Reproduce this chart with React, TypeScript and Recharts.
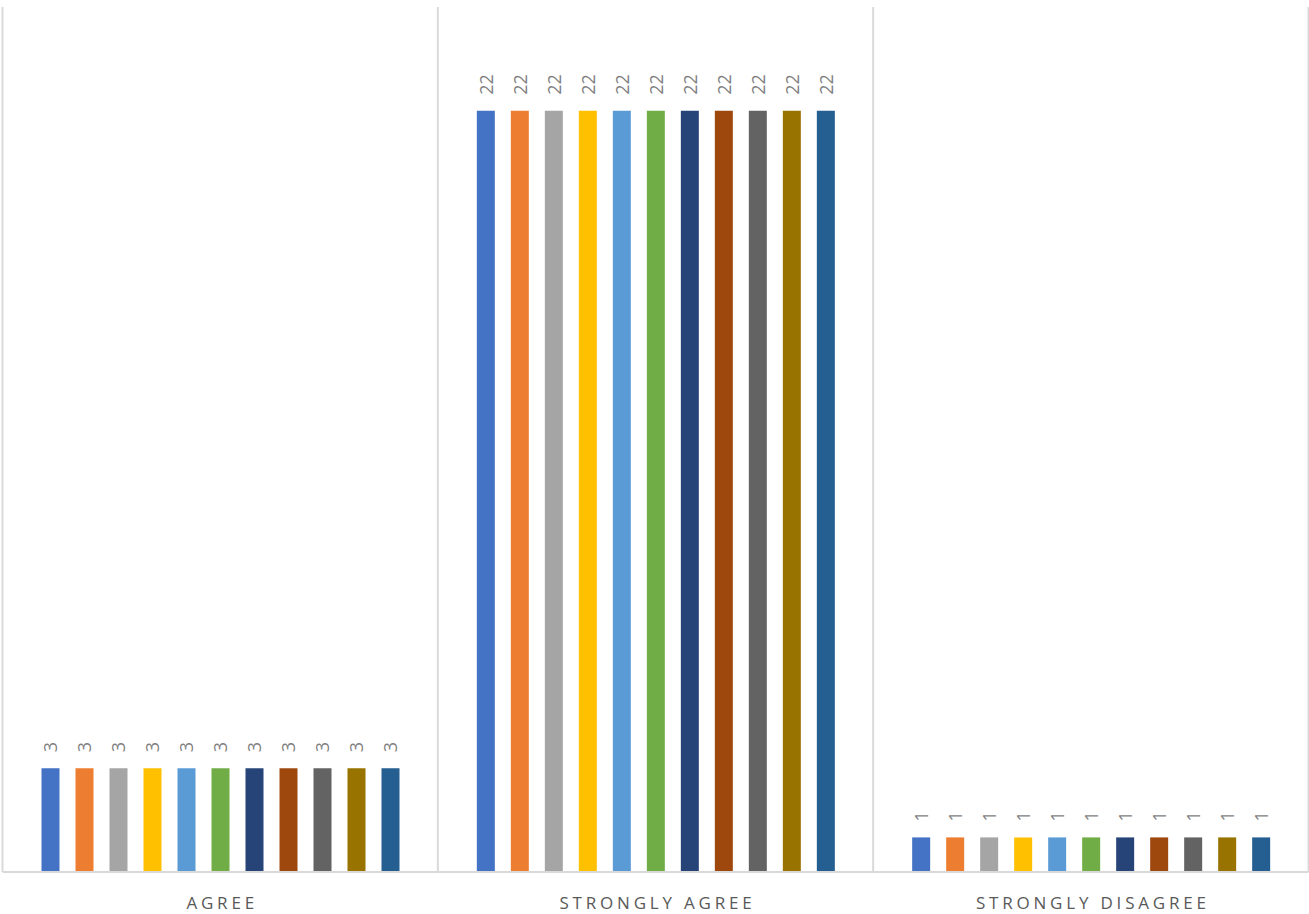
import { Bar, BarChart, CartesianGrid, LabelList, XAxis, YAxis } from 'recharts';

const categories = ['AGREE', 'STRONGLY AGREE', 'STRONGLY DISAGREE'];

const seriesNames = [
  'Series 1',
  'Series 2',
  'Series 3',
  'Series 4',
  'Series 5',
  'Series 6',
  'Series 7',
  'Series 8',
  'Series 9',
  'Series 10',
  'Series 11',
];

// one row per series, one value per category
const seriesValues = [
  [3, 22, 1],
  [3, 22, 1],
  [3, 22, 1],
  [3, 22, 1],
  [3, 22, 1],
  [3, 22, 1],
  [3, 22, 1],
  [3, 22, 1],
  [3, 22, 1],
  [3, 22, 1],
  [3, 22, 1],
];

const seriesColors = [
  '#4472C4',
  '#ED7D31',
  '#A5A5A5',
  '#FFC000',
  '#5B9BD5',
  '#70AD47',
  '#264478',
  '#9E480E',
  '#636363',
  '#997300',
  '#255E91',
];

const yDomain: [number, number] = [0, 25];

const data = categories.map((name, i) => {
  const row: Record<string, string | number> = { name };
  seriesNames.forEach((s, j) => {
    row[`s${j}`] = seriesValues[j][i];
  });
  return row;
});

const FONT = '"Open Sans", "Liberation Sans", sans-serif';

function CategoryTick(props: any) {
  const { x, y, payload } = props;
  return (
    <text
      x={x + 2}
      y={y + 29}
      textAnchor="middle"
      fill="#595959"
      fontFamily={FONT}
      fontSize={17}
      letterSpacing={3.8}
    >
      {payload.value}
    </text>
  );
}

function ValueLabel(props: any) {
  const { x, y, width, value } = props;
  const cx = Number(x) + Number(width) / 2;
  const cy = Number(y) - 16;
  return (
    <text
      x={cx}
      y={cy}
      transform={`rotate(-90, ${cx}, ${cy})`}
      textAnchor="start"
      dominantBaseline="central"
      fill="#7f7f7f"
      fontFamily={FONT}
      fontSize={18}
    >
      {value}
    </text>
  );
}

export default function App() {
  return (
    <div style={{ position: 'absolute', left: 0, top: 0 }}>
      <BarChart
        width={1309}
        height={914}
        data={data}
        margin={{ top: 7, right: 0.5, left: 2.5, bottom: 0 }}
        barSize={18}
        barGap={16}
      >
        <CartesianGrid
          horizontal={false}
          stroke="#d9d9d9"
          strokeWidth={2}
          verticalCoordinatesGenerator={({ offset }: any) =>
            Array.from(
              { length: categories.length + 1 },
              (_, i) => offset.left + (offset.width * i) / categories.length
            )
          }
        />
        <XAxis
          dataKey="name"
          height={42}
          tickLine={false}
          axisLine={{ stroke: '#d9d9d9', strokeWidth: 2 }}
          tick={<CategoryTick />}
          interval={0}
        />
        <YAxis hide domain={yDomain} />
        {seriesNames.map((s, j) => (
          <Bar key={s} dataKey={`s${j}`} name={s} fill={seriesColors[j]} isAnimationActive={false}>
            <LabelList dataKey={`s${j}`} content={<ValueLabel />} />
          </Bar>
        ))}
      </BarChart>
    </div>
  );
}
